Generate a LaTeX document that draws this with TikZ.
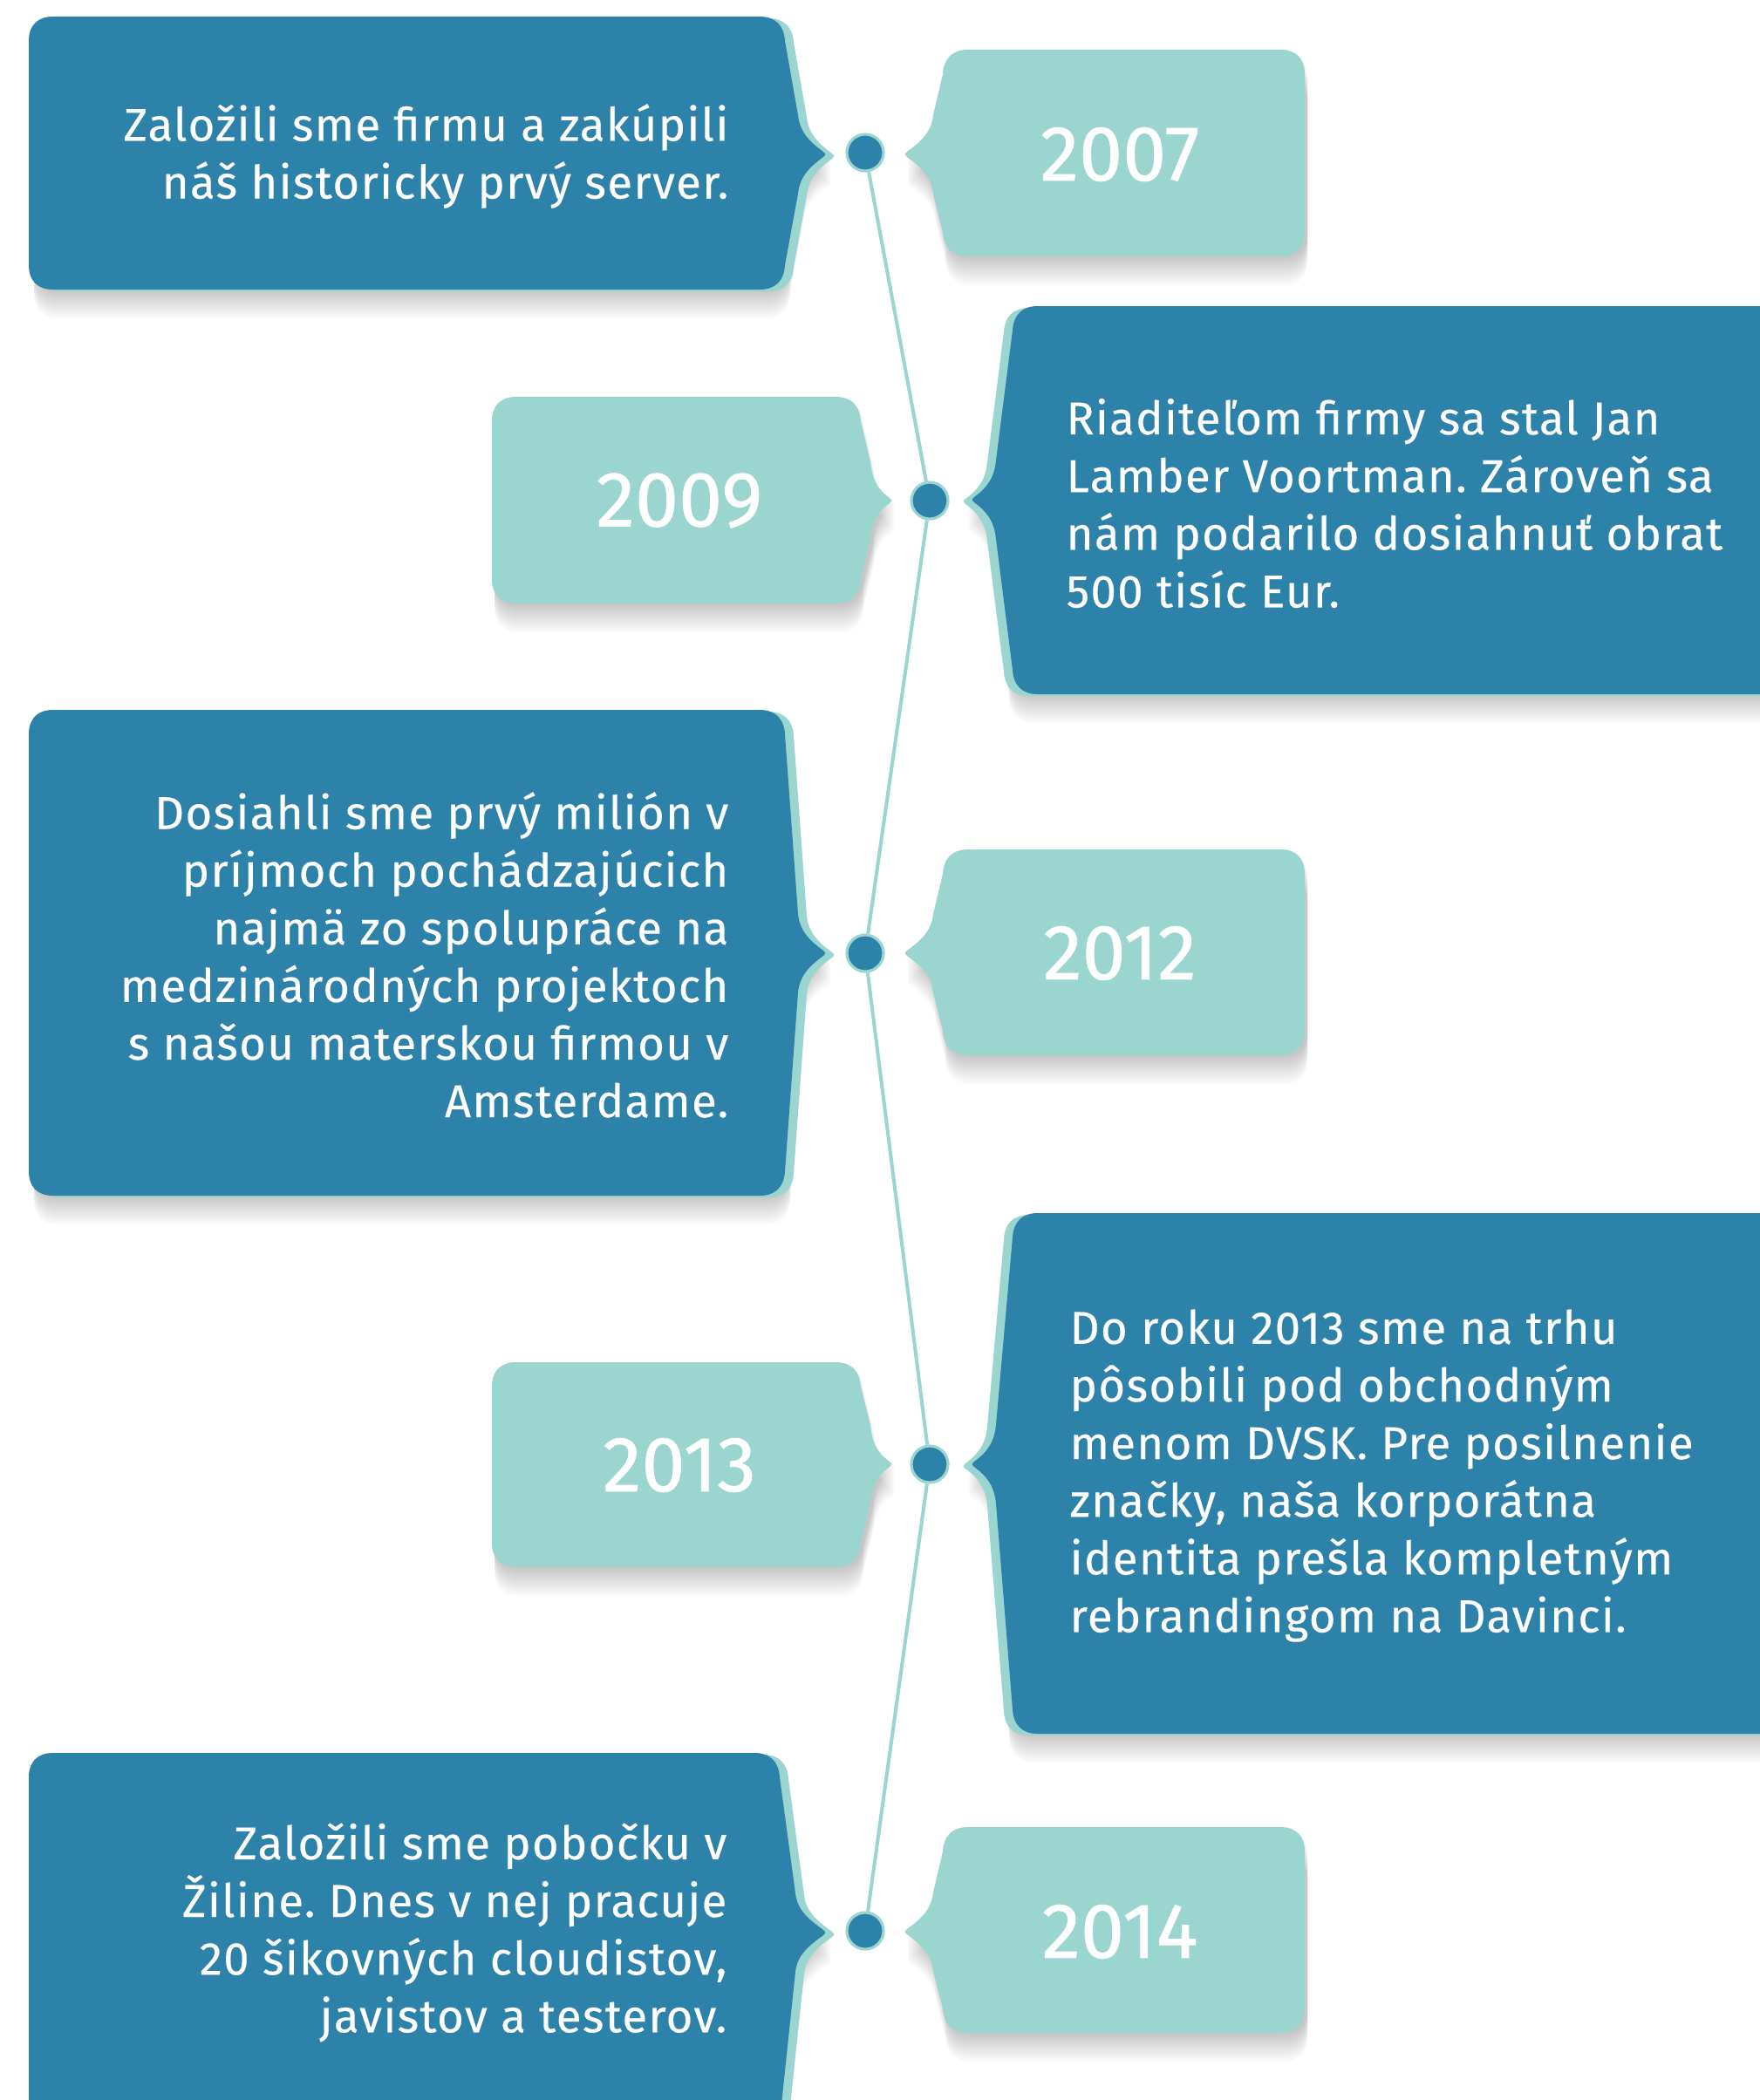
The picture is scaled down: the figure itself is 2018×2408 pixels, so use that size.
\documentclass[tikz,border=0pt]{standalone}
\usepackage{fontspec}
\setmainfont{Fira Sans}
\newfontfamily\bodyfont[FakeBold=0.3, LetterSpace=2.5]{Fira Sans}
\newfontfamily\yearfont[FakeBold=0.8]{Fira Sans}
\definecolor{dkblue}{HTML}{2C82A9}
\definecolor{tlight}{HTML}{9AD5D0}
\tikzset{
  x=0.01cm, y=-0.01cm,
  dot/.style={circle, minimum size=0.42cm, inner sep=0pt, fill=dkblue, draw=tlight, line width=0.9pt},
  tline/.style={draw=tlight, line width=1.15pt},
  year/.style={text=white, font=\yearfont\fontsize{25.5}{30}\selectfont, inner sep=0pt},
  desc/.style={text=white, font=\bodyfont\fontsize{15}{18.8}\selectfont\frenchspacing, inner sep=0pt},
  shadlayer/.style={black, opacity=0.017},
  edgeL/.style={tlight, xshift=0.1cm, yshift=-0.02cm},
  edgeR/.style={tlight, xshift=-0.1cm, yshift=-0.02cm},
}
% box pointing right: L,T,B,R,yc,S,P,style
\newcommand\lbox[8]{\fill[#8]
  (#1,#2+28) .. controls (#1,#2+10) and (#1+10,#2) .. (#1+28,#2)
  -- (#4-28,#2) .. controls (#4-10,#2) and (#4,#2+10) .. (#4+1,#2+28)
  -- (#6,#5-45) .. controls (#6+2,#5-25) and (#7-18,#5-14) .. (#7-3,#5-3)
  .. controls (#7,#5) .. (#7-3,#5+3)
  .. controls (#7-18,#5+14) and (#6+2,#5+25) .. (#6,#5+45)
  -- (#4+1,#3-28) .. controls (#4,#3-10) and (#4-10,#3) .. (#4-28,#3)
  -- (#1+28,#3) .. controls (#1+10,#3) and (#1,#3-10) .. (#1,#3-28) -- cycle;}
% box pointing left: R,T,B,L,yc,S,P,style
\newcommand\rbox[8]{\fill[#8]
  (#4+28,#2) -- (#1-28,#2) .. controls (#1-10,#2) and (#1,#2+10) .. (#1,#2+28)
  -- (#1,#3-28) .. controls (#1,#3-10) and (#1-10,#3) .. (#1-28,#3)
  -- (#4+28,#3) .. controls (#4+10,#3) and (#4,#3-10) .. (#4-1,#3-28)
  -- (#6,#5+45) .. controls (#6-2,#5+25) and (#7+18,#5+14) .. (#7+3,#5+3)
  .. controls (#7,#5) .. (#7+3,#5-3)
  .. controls (#7+18,#5-14) and (#6-2,#5-25) .. (#6,#5-45)
  -- (#4-1,#2+28) .. controls (#4,#2+10) and (#4+10,#2) .. (#4+28,#2) -- cycle;}
% the ten boxes
\newcommand\bxA[1]{\lbox{33}{19}{332}{899}{177}{915}{947}{#1}}
\newcommand\bxB[1]{\lbox{33}{814}{1371}{899}{1093}{915}{947}{#1}}
\newcommand\bxC[1]{\lbox{33}{2010}{2460}{893}{2216}{912}{947}{#1}}
\newcommand\bxD[1]{\rbox{2060}{351}{796}{1162}{573}{1142}{1114}{#1}}
\newcommand\bxE[1]{\rbox{2060}{1391}{1988}{1162}{1679}{1142}{1114}{#1}}
\newcommand\yrA[1]{\rbox{1496}{57}{294}{1082}{177}{1070}{1037}{#1}}
\newcommand\yrB[1]{\rbox{1496}{974}{1210}{1082}{1093}{1070}{1037}{#1}}
\newcommand\yrC[1]{\rbox{1496}{2095}{2331}{1082}{2215}{1070}{1037}{#1}}
\newcommand\yrD[1]{\lbox{564}{455}{692}{986}{574}{998}{1023}{#1}}
\newcommand\yrE[1]{\lbox{564}{1562}{1797}{986}{1679}{998}{1023}{#1}}
\begin{document}
\begin{tikzpicture}
\useasboundingbox (0,0) rectangle (2018,2408);
\fill[white] (0,0) rectangle (2018,2408);
% ---- soft shadows (stacked translucent copies shifted down)
\foreach \k in {1,...,14} {
  \bxA{shadlayer, xshift=0.06cm, yshift=-\k*0.024cm}
  \bxB{shadlayer, xshift=0.06cm, yshift=-\k*0.024cm}
  \bxC{shadlayer, xshift=0.06cm, yshift=-\k*0.024cm}
  \bxD{shadlayer, xshift=-0.04cm, yshift=-\k*0.024cm}
  \bxE{shadlayer, xshift=-0.04cm, yshift=-\k*0.024cm}
  \yrA{shadlayer, xshift=0.03cm, yshift=-\k*0.024cm}
  \yrB{shadlayer, xshift=0.03cm, yshift=-\k*0.024cm}
  \yrC{shadlayer, xshift=0.03cm, yshift=-\k*0.024cm}
  \yrD{shadlayer, xshift=0.03cm, yshift=-\k*0.024cm}
  \yrE{shadlayer, xshift=0.03cm, yshift=-\k*0.024cm}
}
% ---- dark boxes with teal edge
\bxA{edgeL} \bxA{dkblue}
\bxB{edgeL} \bxB{dkblue}
\bxC{edgeL} \bxC{dkblue}
\bxD{edgeR} \bxD{dkblue}
\bxE{edgeR} \bxE{dkblue}
% ---- light year boxes
\yrA{tlight} \yrB{tlight} \yrC{tlight} \yrD{tlight} \yrE{tlight}
% ---- timeline
\node[dot] (d1) at (992,175) {};
\node[dot] (d2) at (1066,574) {};
\node[dot] (d3) at (992,1093) {};
\node[dot] (d4) at (1066,1679) {};
\node[dot] (d5) at (992,2214) {};
\draw[tline] (d1) -- (d2);
\draw[tline] (d2) -- (d3);
\draw[tline] (d3) -- (d4);
\draw[tline] (d4) -- (d5);
% ---- years
\node[year] (y1) at (1284,177) {2007};
\node[year] (y2) at (779,574) {2009};
\node[year] (y3) at (1284,1093) {2012};
\node[year] (y4) at (779,1680) {2013};
\node[year] (y5) at (1284,2215) {2014};
% ---- texts
\node[desc, align=right, anchor=east] (t1) at (836,179) {Založili sme firmu a zakúpili\\náš historicky prvý server.};
\node[desc, align=left, anchor=west] (t2) at (1222,577) {Riaditeľom firmy sa stal Jan\\Lamber Voortman. Zároveň sa\\nám podarilo dosiahnuť obrat\\500 tisíc Eur.};
\node[desc, align=right, anchor=east] (t3) at (836,1095) {Dosiahli sme prvý milión v\\príjmoch pochádzajúcich\\najmä zo spolupráce na\\medzinárodných projektoch\\s našou materskou firmou v\\Amsterdame.};
\node[desc, align=left, anchor=west] (t4) at (1226,1692) {Do roku 2013 sme na trhu\\pôsobili pod obchodným\\menom DVSK. Pre posilnenie\\značky, naša korporátna\\identita prešla kompletným\\rebrandingom na Davinci.};
\node[desc, align=right, anchor=east] (t5) at (834,2216) {Založili sme pobočku v\\Žiline. Dnes v nej pracuje\\20 šikovných cloudistov,\\javistov a testerov.};
\end{tikzpicture}
\end{document}
